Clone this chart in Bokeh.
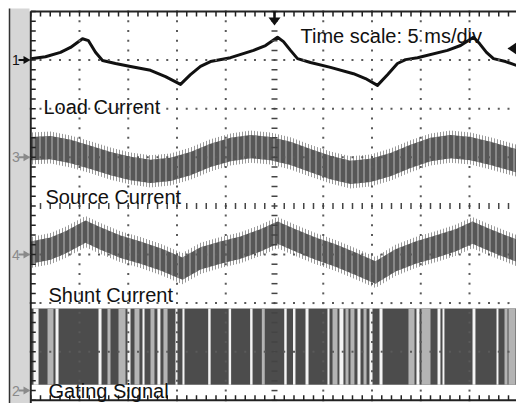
import numpy as np
from bokeh.plotting import figure
from bokeh.models import Range1d
from bokeh.core.properties import value
from bokeh.embed import file_html
from bokeh.resources import INLINE

# ---------------------------------------------------------------------------
# Scope settings: 5 ms/div, 10 x 8 divisions
MS_PER_DIV = 5.0
N_XDIV, N_YDIV = 10, 8

# Channel reference levels, in divisions from the screen centre
CH1_REF, CH3_REF, CH4_REF, CH2_REF = 3.0, 1.0, -1.0, -3.8

# Load current (ch1): time in ms, level in divisions above its reference
load_t = [0.0, 1.51, 3.05, 4.08, 5.31, 5.92, 6.64, 7.36, 8.69, 10.23, 12.28,
          13.82, 15.36, 16.38, 17.41, 18.43, 20.49, 22.85, 24.08, 25.31, 25.92,
          26.64, 27.36, 28.69, 30.74, 33.10, 34.33, 35.56, 36.59, 37.61, 38.44,
          39.67, 42.74, 44.08, 45.41, 46.03, 46.74, 47.46, 48.69, 49.82]
load_v = [0.03, 0.07, 0.16, 0.26, 0.44, 0.40, 0.16, -0.01, -0.07, -0.13, -0.21,
          -0.34, -0.50, -0.30, -0.13, -0.03, 0.05, 0.20, 0.30, 0.47, 0.38,
          0.20, 0.03, -0.05, -0.15, -0.28, -0.38, -0.52, -0.30, -0.07, 0.01,
          0.05, 0.20, 0.30, 0.47, 0.34, 0.16, 0.03, -0.03, -0.11]

# Source current (ch3): centre of the switching-ripple band
source_t = [0.0, 2.03, 4.08, 6.13, 8.18, 10.23, 12.28, 14.33, 16.38, 18.43,
            20.49, 22.54, 24.59, 26.64, 28.69, 30.74, 32.79, 34.84, 36.90,
            38.95, 41.00, 43.05, 45.10, 47.15, 49.82]
source_v = [0.18, 0.20, 0.12, 0.00, -0.13, -0.23, -0.29, -0.25, -0.13, 0.04,
            0.16, 0.22, 0.18, 0.08, -0.07, -0.21, -0.31, -0.27, -0.15, 0.02,
            0.16, 0.22, 0.18, 0.08, -0.07]
source_ripple = 0.26

# Shunt (active filter) current (ch4): centre of the ripple band
shunt_t = [0.0, 2.03, 3.57, 5.62, 7.15, 9.20, 11.26, 13.31, 15.56, 17.41,
           19.46, 21.51, 23.56, 25.31, 27.15, 29.21, 31.26, 33.31, 35.36,
           37.41, 39.46, 41.51, 43.56, 45.30, 47.15, 49.82]
shunt_v = [0.04, 0.12, 0.25, 0.47, 0.33, 0.16, 0.04, -0.10, -0.29, -0.08,
           0.04, 0.14, 0.29, 0.45, 0.29, 0.12, -0.02, -0.19, -0.37, -0.12,
           0.04, 0.16, 0.29, 0.45, 0.29, 0.08]
shunt_ripple = 0.25

# Gating signal (ch2): switching levels and the intervals without pulses
gate_low, gate_high = 0.12, 1.69
gap_start = [0.28, 1.72, 2.54, 6.95, 7.87, 9.00, 9.92, 10.64, 11.46, 12.28,
             12.99, 13.61, 14.84, 15.56, 18.20, 20.30, 22.50, 23.70, 26.00,
             26.90, 28.18, 30.43, 30.95, 31.66, 32.28, 32.79, 33.51, 34.13,
             34.74, 35.77, 38.74, 39.56, 40.08, 41.72, 42.23, 45.31, 47.77,
             48.59, 49.00]
gap_end = [0.80, 2.33, 2.85, 7.26, 8.18, 9.72, 10.23, 11.15, 11.67, 12.69,
           13.30, 14.03, 15.05, 15.77, 18.45, 20.55, 22.75, 24.00, 26.25,
           27.15, 28.49, 30.64, 31.46, 32.07, 32.59, 33.20, 33.82, 34.44,
           35.05, 36.08, 39.36, 39.87, 41.00, 42.02, 42.43, 45.61, 47.97,
           48.90, 49.72]
gap_kind = ["open", "sparse", "open", "open", "sparse", "sparse", "open",
            "sparse", "open", "sparse", "open", "sparse", "open", "open",
            "open", "open", "open", "sparse", "open", "open", "open", "open",
            "sparse", "open", "sparse", "sparse", "open", "sparse", "open",
            "open", "sparse", "open", "sparse", "open", "open", "open", "open",
            "sparse", "sparse"]

trace_labels = ["Load Current", "Source Current", "Shunt Current", "Gating Signal"]
channel_marks = ["1", "3", "4", "2"]
timebase_label = "Time scale: 5 ms/div"

# ---------------------------------------------------------------------------
# Screen geometry
W, H = 516, 403
PX_PER_DIV_X, PX_PER_DIV_Y = 48.75, 48.6
FRAME_LEFT, FRAME_TOP = 30.25, 11.0

ms_per_px = MS_PER_DIV / PX_PER_DIV_X
div_per_px = 1.0 / PX_PER_DIV_Y
x0 = -FRAME_LEFT * ms_per_px
x1 = x0 + W * ms_per_px
y1 = N_YDIV / 2 + FRAME_TOP * div_per_px
y0 = y1 - H * div_per_px
t_end = N_XDIV * MS_PER_DIV
top, bottom = N_YDIV / 2, -N_YDIV / 2


def sx(px):
    return x0 + px * ms_per_px


def sy(py):
    return y1 - py * div_per_px


p = figure(width=W, height=H, x_range=Range1d(x0, x1), y_range=Range1d(y0, y1),
           output_backend="svg", toolbar_location=None, min_border=0,
           x_axis_type=None, y_axis_type=None, outline_line_color=None,
           background_fill_color="white", border_fill_color="white")
p.grid.grid_line_color = None

# Side panel of the scope screen
p.quad(left=sx(9.5), right=sx(29), top=sy(8), bottom=y0, fill_color="#d6d6d6",
       line_color=None)
p.segment(sx(9), sy(8), sx(9), y0, line_color="#333", line_width=1.5)

# Gating signal: dense pulses with pulse-free gaps
p.quad(left=0, right=x1, bottom=CH2_REF + gate_low, top=CH2_REF + gate_high,
       fill_color="#4c4c4c", line_color=None)
gap_colors = ["#f4f4f4" if k == "open" else "#b4b4b4" for k in gap_kind]
p.quad(left=gap_start, right=gap_end, bottom=CH2_REF + gate_low,
       top=CH2_REF + gate_high, fill_color=gap_colors, line_color=None)

# Ripple bands for source and shunt currents
for t, v, ref, r in [(source_t, source_v, CH3_REF, source_ripple),
                     (shunt_t, shunt_v, CH4_REF, shunt_ripple)]:
    v = np.asarray(v)
    # ragged spikes of the ripple beyond the dense core
    p.varea(x=t, y1=ref + v - r - 0.07, y2=ref + v + r + 0.07,
            fill_alpha=0, hatch_pattern="vertical_line", hatch_color="#6e6e6e",
            hatch_scale=3, hatch_weight=1, hatch_alpha=0.7)
    p.varea(x=t, y1=ref + v - r + 0.02, y2=ref + v + r - 0.02,
            fill_color="#575757", hatch_pattern="vertical_line",
            hatch_color="#a2a2a2", hatch_scale=6, hatch_weight=1.3)

# Load current
p.line(load_t, np.asarray(load_v) + CH1_REF, line_color="#111", line_width=3,
       line_join="round")

# Graticule: dotted division lines
minor_x = np.arange(0, t_end + 0.01, MS_PER_DIV / 5)
minor_y = np.arange(bottom, top + 0.01, 0.2)
major_x = np.arange(MS_PER_DIV, t_end - 0.01, MS_PER_DIV)
major_y = np.arange(bottom + 1, top - 0.01, 1.0)
gx = [x for x in major_x if abs(x - t_end / 2) > 0.1]
gy = [y for y in major_y if abs(y) > 0.1]
dots_x = [x for x in gx for _ in minor_y] + [x for _ in gy for x in minor_x]
dots_y = [y for _ in gx for y in minor_y] + [y for y in gy for _ in minor_x]
p.scatter(dots_x, dots_y, marker="square", size=2, fill_color="#5a5a5a",
          line_color=None)

# Centre cross with sub-division ticks
hx = 3 * ms_per_px
hy = 3 * div_per_px
p.segment(t_end / 2 - hx, minor_y, t_end / 2 + hx, minor_y, line_color="#444",
          line_width=1.5)
p.segment(minor_x, -hy, minor_x, hy, line_color="#444", line_width=1.5)

# Border with tick combs
tlx = 5 * ms_per_px
tly = 5 * div_per_px
p.segment([0, 0, 0], [y0, top, bottom], [0, x1, x1], [top, top, bottom],
          line_color="#222", line_width=2)
p.segment(minor_x, top, minor_x, top - tly, line_color="#222", line_width=1.5)
p.segment(minor_x, bottom, minor_x, bottom + tly, line_color="#222",
          line_width=1.5)
p.segment(0, minor_y, tlx, minor_y, line_color="#222", line_width=1.5)

# Channel reference markers on the left edge
refs = [CH1_REF, CH3_REF, CH4_REF, CH2_REF]
mark_colors = ["#111", "#8a8a8a", "#8a8a8a", "#8a8a8a"]
p.text(x=[sx(11.5)] * 4, y=refs, text=channel_marks, text_color=mark_colors,
       text_font=value("Liberation Sans"), text_font_size="14px",
       text_baseline="middle", text_align="left")
p.segment([sx(18)] * 4, refs, [sx(24)] * 4, refs, line_color=mark_colors,
          line_width=2)
arrow_xs = [[sx(23), sx(30), sx(23)] for _ in refs]
arrow_ys = [[r + 4 * div_per_px, r, r - 4 * div_per_px] for r in refs]
p.patches(arrow_xs, arrow_ys, fill_color=mark_colors, line_color=None)

# Trigger position (top) and trigger level (right)
tc = t_end / 2
p.segment(tc, top, tc, top - 8 * div_per_px, line_color="#111", line_width=2.5)
p.patch([tc - 6 * ms_per_px, tc + 6 * ms_per_px, tc],
        [top - 6 * div_per_px, top - 6 * div_per_px, top - 14 * div_per_px],
        fill_color="#111", line_color=None)
p.patch([sx(507), sx(516), sx(516)], [sy(48), sy(42), sy(54)],
        fill_color="#111", line_color=None)

# Trace captions and timebase note
p.text(x=[sx(43), sx(45), sx(48), sx(48), sx(300)],
       y=[sy(106), sy(196), sy(294), sy(390), sy(35)],
       text=trace_labels + [timebase_label], text_color="#111",
       text_font=value("Liberation Sans"), text_font_size="20px",
       text_baseline="alphabetic", text_align="left")

open("out.html", "w").write(file_html(p, INLINE))
